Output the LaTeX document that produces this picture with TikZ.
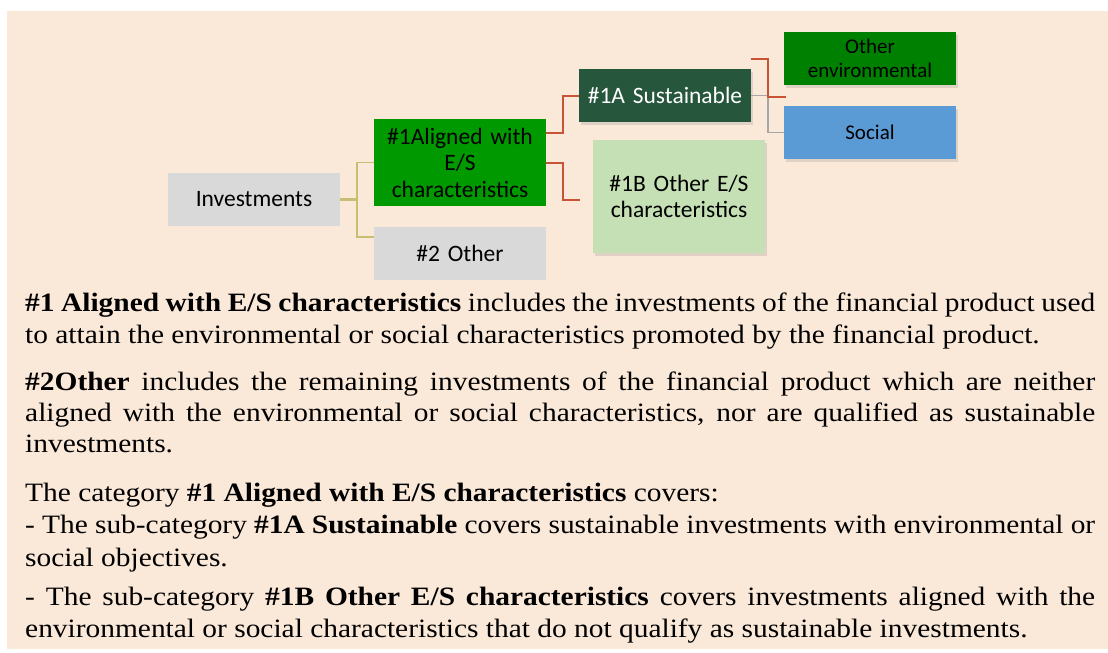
\documentclass[tikz,border=0pt]{standalone}
\usepackage{fontspec}
\setmainfont{Liberation Serif}[FakeStretch=1.11]
\newfontfamily\boxfont{Carlito}
\usetikzlibrary{shadows}
\definecolor{bgc}{RGB}{250,232,216}
\definecolor{boxgray}{RGB}{217,217,217}
\definecolor{a1c}{RGB}{0,153,0}
\definecolor{s1ac}{RGB}{38,86,60}
\definecolor{b1c}{RGB}{197,224,180}
\definecolor{envc}{RGB}{0,128,0}
\definecolor{socc}{RGB}{91,155,213}
\definecolor{olivec}{RGB}{200,190,112}
\definecolor{redc}{RGB}{200,84,52}
\definecolor{grayc}{RGB}{166,166,166}
\begin{document}
\begin{tikzpicture}[x=1pt,y=-1pt,
  box/.style={draw=none, minimum width=172pt, inner sep=2pt, align=center, text width=168pt, font=\boxfont\fontsize{23.5}{26.5}\selectfont},
  sbox/.style={box, font=\boxfont\fontsize{21}{24}\selectfont},
  shad/.style={drop shadow={shadow xshift=2pt, shadow yshift=-3pt, opacity=0.22}},
  oline/.style={draw=olivec, line width=1.5pt},
  rline/.style={draw=redc, line width=2pt},
  gline/.style={draw=grayc, line width=1.5pt},
  body/.style={anchor=base west, inner sep=0pt, font=\fontsize{26.5}{32}\selectfont}
]
\useasboundingbox (0,0) rectangle (1108,653);
\fill[bgc] (7,11) rectangle (1108,649);

\node[box, fill=boxgray, minimum height=53pt] (inv) at (254,199.5) {Investments};
\node[box, fill=a1c, minimum height=87pt] (a1) at (460,162.5) {\#1Aligned with\\E/S\\characteristics};
\node[box, fill=boxgray, minimum height=53pt] (o2) at (460,253.5) {\#2 Other};
\node[box, shad, fill=s1ac, text=white, minimum height=53pt] (s1a) at (665,95.5) {\#1A Sustainable};
\node[box, shad, fill=b1c, minimum height=113pt] (b1) at (679,196.5) {\#1B Other E/S\\characteristics};
\node[sbox, shad, fill=envc, minimum height=53pt] (env) at (870,58.5) {Other\\environmental};
\node[sbox, shad, fill=socc, minimum height=53pt] (soc) at (870,132.5) {Social};

\draw[oline, line width=2.5pt] (inv.east) -- ++(17,0);
\draw[oline] (a1.west) -- ++(-17,0) |- ([yshift=16.5pt]o2.west);
\draw[rline] ([yshift=29.5pt]a1.east) -- ++(17,0) |- (s1a.west);
\draw[rline] (a1.east) -- ++(17,0) |- ([xshift=-13pt,yshift=-3.5pt]b1.west);
\draw[gline] (s1a.east) -- ++(17,0) |- (soc.west);
\draw[rline] ([xshift=-33pt]env.west) -- ++(17,0) |- ([xshift=35pt,yshift=-1.5pt]s1a.east);

\node[body] (l1) at (25,311) {\makebox[1070pt][s]{\textbf{\#1 Aligned with E/S characteristics} includes the investments of the financial product used}};
\node[body] (l2) at (25,343) {to attain the environmental or social characteristics promoted by the financial product.};
\node[body] (l3) at (25,390) {\makebox[1070pt][s]{\textbf{\#2Other} includes the remaining investments of the financial product which are neither}};
\node[body] (l4) at (25,421) {\makebox[1070pt][s]{aligned with the environmental or social characteristics, nor are qualified as sustainable}};
\node[body] (l5) at (25,452) {investments.};
\node[body] (l6) at (25,501) {The category \textbf{\#1 Aligned with E/S characteristics} covers:};
\node[body] (l7) at (25,533) {\makebox[1070pt][s]{- The sub-category \textbf{\#1A Sustainable} covers sustainable investments with environmental or}};
\node[body] (l8) at (25,566) {social objectives.};
\node[body] (l9) at (25,605) {\makebox[1070pt][s]{- The sub-category \textbf{\#1B Other E/S characteristics} covers investments aligned with the}};
\node[body] (l10) at (25,637) {environmental or social characteristics that do not qualify as sustainable investments.};
\end{tikzpicture}
\end{document}
